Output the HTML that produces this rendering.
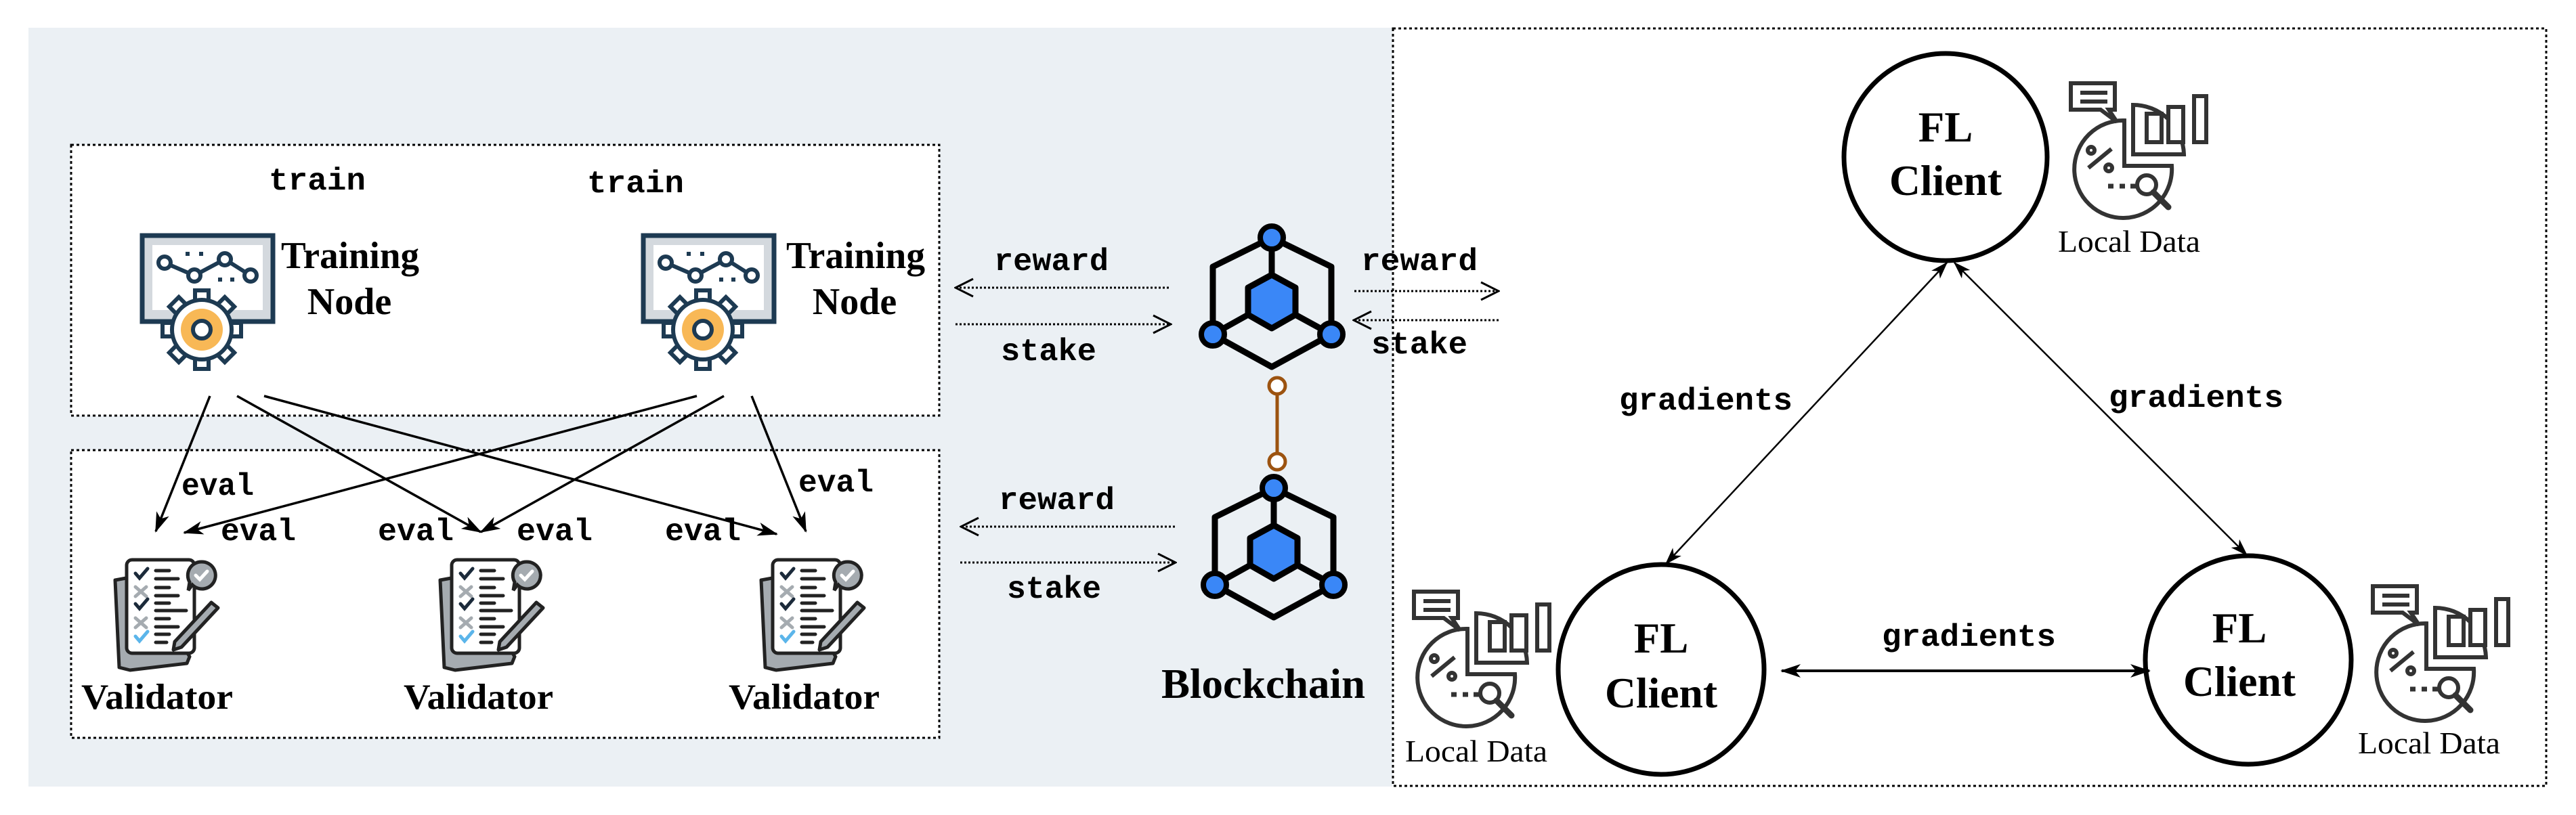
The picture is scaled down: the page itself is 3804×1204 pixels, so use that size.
<!DOCTYPE html>
<html><head><meta charset="utf-8"><style>
html,body{margin:0;padding:0;background:#fff;}
svg{display:block;}
.mono{font-family:"Liberation Mono",monospace;font-weight:bold;font-size:46px;fill:#000;}
.serb{font-family:"Liberation Serif",serif;font-weight:bold;fill:#000;}
.ser{font-family:"Liberation Serif",serif;fill:#000;}
</style></head><body>
<svg width="3804" height="1204" viewBox="0 0 3804 1204" xmlns="http://www.w3.org/2000/svg">
<defs>
<marker id="ah" viewBox="0 0 30 20" refX="28" refY="10" markerWidth="30" markerHeight="20" markerUnits="userSpaceOnUse" orient="auto-start-reverse">
<path d="M0,0 L30,10 L0,20 L8,10 Z" fill="#000"/></marker>
<marker id="ah2" viewBox="0 0 30 20" refX="28" refY="10" markerWidth="26" markerHeight="18" markerUnits="userSpaceOnUse" orient="auto-start-reverse">
<path d="M0,0 L30,10 L0,20 L8,10 Z" fill="#000"/></marker>
<marker id="op" viewBox="0 0 30 30" refX="28" refY="15" markerWidth="30" markerHeight="30" markerUnits="userSpaceOnUse" orient="auto-start-reverse">
<path d="M2,2 L28,15 L2,28" fill="none" stroke="#000" stroke-width="3"/></marker>

<g id="train">
<rect x="10" y="8" width="193" height="127" fill="#d4d9de" stroke="#1d3a52" stroke-width="7"/>
<rect x="25" y="22" width="163" height="96" fill="#fff"/>
<polyline points="43,48 87,67 132,43 170,67" fill="none" stroke="#1d3a52" stroke-width="6"/>
<g fill="#fff" stroke="#1d3a52" stroke-width="6"><circle cx="43" cy="48" r="9"/><circle cx="87" cy="67" r="9"/><circle cx="132" cy="43" r="9"/><circle cx="170" cy="67" r="9"/></g>
<g fill="#1d3a52"><rect x="74" y="32" width="6" height="6"/><rect x="94" y="32" width="6" height="6"/><rect x="122" y="70" width="6" height="6"/><rect x="140" y="70" width="6" height="6"/></g>
<g transform="translate(98,147)" fill="#fff" stroke="#1d3a52" stroke-width="6">
<g id="tooth"><rect x="-10" y="-58" width="20" height="20"/></g>
<use href="#tooth" transform="rotate(45)"/><use href="#tooth" transform="rotate(90)"/><use href="#tooth" transform="rotate(135)"/><use href="#tooth" transform="rotate(180)"/><use href="#tooth" transform="rotate(225)"/><use href="#tooth" transform="rotate(270)"/><use href="#tooth" transform="rotate(315)"/>
<circle r="44"/>
<circle r="31" fill="#f8b856" stroke="none"/>
<circle r="13" fill="#fff"/>
</g>
</g>

<g id="valid">
<path d="M20,47 L58,40 L130,160 L126,170 L42,180 L26,176 Z" fill="#a5abb0" stroke="#222" stroke-width="5" stroke-linejoin="round"/>
<rect x="37" y="17" width="100" height="138" rx="8" fill="#fff" stroke="#222" stroke-width="5"/>
<g fill="none" stroke-width="5" stroke-linecap="round">
<polyline points="50,37 56,44 68,30" stroke="#1b2a3a"/>
<path d="M50,57 L66,71 M66,57 L50,71" stroke="#a5abb0"/>
<polyline points="50,82 56,89 68,75" stroke="#1b2a3a"/>
<path d="M50,103 L66,117 M66,103 L50,117" stroke="#a5abb0"/>
<polyline points="50,130 56,137 68,123" stroke="#5bb5ea"/>
<g stroke="#222"><path d="M80,33 H100 M80,45 H113 M80,58 H100 M80,70 H113 M80,81 H100 M80,92 H125 M80,104 H100 M80,116 H113 M80,127 H100 M80,139 H96"/></g>
</g>
<path d="M148,20 a20,20 0 1 1 -14,34 l-6,8 l2,-12 a20,20 0 0 1 18,-30 Z" fill="#a5abb0" stroke="#222" stroke-width="5"/>
<polyline points="139,40 145,46 156,34" fill="none" stroke="#fff" stroke-width="5" stroke-linecap="round"/>
<path d="M162,80 L172,88 L118,146 L106,150 L108,138 Z" fill="#a5abb0" stroke="#222" stroke-width="5" stroke-linejoin="round"/>
</g>

<g id="ldata" fill="none" stroke="#333" stroke-width="6">
<path d="M97,68 A72,72 0 1 0 167,135 L97,135 Z"/>
<path d="M110,45 A75,75 0 0 1 185,118 L110,118 Z" fill="#fff"/>
<path d="M18,13 H83 V52 H74 L86,70 L62,52 H18 Z" fill="#fff"/>
<path d="M32,27 H72 M32,40 H72"/>
<rect x="130" y="58" width="22" height="42" fill="#fff"/>
<rect x="162" y="48" width="22" height="52" fill="#fff"/>
<rect x="200" y="32" width="18" height="68" fill="#fff"/>
<circle cx="48" cy="112" r="5"/><circle cx="74" cy="138" r="5"/><path d="M44,138 L78,110"/>
<path d="M73,165 h8 M90,165 h8 M106,165 h8" stroke-width="7"/>
<circle cx="130" cy="163" r="14" fill="#fff"/><path d="M140,174 L162,196" stroke-width="9" stroke-linecap="round"/>
</g>

<g id="chain">
<path d="M0,0 L-87,43 V143 L0,191 L88,143 V43 Z M0,0 V55" fill="none" stroke="#000" stroke-width="9" stroke-linejoin="round"/>
<path d="M-87,143 L-35,114 M88,143 L35,114" stroke="#000" stroke-width="9"/>
<polygon points="0,55 35,74 35,114 0,134 -35,114 -35,74" fill="#3a87f7" stroke="#000" stroke-width="9" stroke-linejoin="round"/>
<g fill="#3a87f7" stroke="#000" stroke-width="8"><circle cx="0" cy="0" r="17"/><circle cx="-87" cy="143" r="17"/><circle cx="88" cy="143" r="17"/></g>
</g>
</defs>

<rect x="42" y="41" width="2014" height="1121" fill="#ebf0f4"/>
<rect x="105" y="214" width="1282" height="400" fill="#fff" stroke="#000" stroke-width="3" stroke-dasharray="4 4"/>
<rect x="105" y="665" width="1282" height="425" fill="#fff" stroke="#000" stroke-width="3" stroke-dasharray="4 4"/>
<rect x="2057" y="42" width="1703" height="1119" fill="#fff" stroke="#000" stroke-width="3" stroke-dasharray="4 4"/>

<text class="mono" x="397" y="280" textLength="143" lengthAdjust="spacingAndGlyphs">train</text>
<text class="mono" x="867" y="284" textLength="143" lengthAdjust="spacingAndGlyphs">train</text>
<use href="#train" transform="translate(200,340)"/>
<use href="#train" transform="translate(940,340)"/>
<text class="serb" font-size="56" x="415" y="396" textLength="204" lengthAdjust="spacingAndGlyphs">Training</text>
<text class="serb" font-size="56" x="516" y="464" text-anchor="middle">Node</text>
<text class="serb" font-size="56" x="1161" y="396" textLength="205" lengthAdjust="spacingAndGlyphs">Training</text>
<text class="serb" font-size="56" x="1262" y="464" text-anchor="middle">Node</text>

<g stroke="#000" stroke-width="3.5" marker-end="url(#ah)">
<line x1="310" y1="585" x2="230" y2="785"/>
<line x1="350" y1="585" x2="710" y2="786"/>
<line x1="390" y1="585" x2="1147" y2="789"/>
<line x1="1029" y1="585" x2="272" y2="787"/>
<line x1="1069" y1="585" x2="710" y2="786"/>
<line x1="1110" y1="585" x2="1190" y2="785"/>
</g>
<text class="mono" x="268" y="731" textLength="107" lengthAdjust="spacingAndGlyphs">eval</text>
<text class="mono" x="326" y="798" textLength="111" lengthAdjust="spacingAndGlyphs">eval</text>
<text class="mono" x="558" y="798" textLength="112" lengthAdjust="spacingAndGlyphs">eval</text>
<text class="mono" x="763" y="798" textLength="112" lengthAdjust="spacingAndGlyphs">eval</text>
<text class="mono" x="982" y="798" textLength="112" lengthAdjust="spacingAndGlyphs">eval</text>
<text class="mono" x="1179" y="726" textLength="111" lengthAdjust="spacingAndGlyphs">eval</text>

<use href="#valid" transform="translate(150,810)"/>
<use href="#valid" transform="translate(630,810)"/>
<use href="#valid" transform="translate(1104,810)"/>
<text class="serb" font-size="53" x="120" y="1047" textLength="224" lengthAdjust="spacingAndGlyphs">Validator</text>
<text class="serb" font-size="53" x="596" y="1047" textLength="221" lengthAdjust="spacingAndGlyphs">Validator</text>
<text class="serb" font-size="53" x="1076" y="1047" textLength="223" lengthAdjust="spacingAndGlyphs">Validator</text>

<g fill="none" stroke="#000" stroke-width="3" stroke-dasharray="3 3">
<line x1="1726" y1="425" x2="1411" y2="425" marker-end="url(#op)"/>
<line x1="1411" y1="479" x2="1729" y2="479" marker-end="url(#op)"/>
<line x1="1735" y1="778" x2="1419" y2="778" marker-end="url(#op)"/>
<line x1="1418" y1="831" x2="1736" y2="831" marker-end="url(#op)"/>
<line x1="2000" y1="430" x2="2213" y2="430" marker-end="url(#op)"/>
<line x1="2213" y1="473" x2="1999" y2="473" marker-end="url(#op)"/>
</g>
<text class="mono" x="1468" y="399" textLength="169" lengthAdjust="spacingAndGlyphs">reward</text>
<text class="mono" x="1478" y="532" textLength="141" lengthAdjust="spacingAndGlyphs">stake</text>
<text class="mono" x="1475" y="752" textLength="171" lengthAdjust="spacingAndGlyphs">reward</text>
<text class="mono" x="1487" y="883" textLength="139" lengthAdjust="spacingAndGlyphs">stake</text>
<text class="mono" x="2010" y="399" textLength="172" lengthAdjust="spacingAndGlyphs">reward</text>
<text class="mono" x="2025" y="522" textLength="142" lengthAdjust="spacingAndGlyphs">stake</text>

<use href="#chain" transform="translate(1878,351)"/>
<use href="#chain" transform="translate(1881,721)"/>
<line x1="1886" y1="582" x2="1886" y2="670" stroke="#9c5310" stroke-width="5"/>
<circle cx="1886" cy="570" r="12" fill="#fff" stroke="#9c5310" stroke-width="5"/>
<circle cx="1886" cy="682" r="12" fill="#fff" stroke="#9c5310" stroke-width="5"/>
<text class="serb" font-size="62" x="1715" y="1031" textLength="301" lengthAdjust="spacingAndGlyphs">Blockchain</text>

<g fill="#fff" stroke="#000" stroke-width="7">
<ellipse cx="2873" cy="232" rx="150" ry="153"/>
<ellipse cx="2453" cy="989" rx="152" ry="155"/>
<ellipse cx="3320" cy="975" rx="152" ry="154"/>
</g>
<g class="serb" font-size="63" text-anchor="middle">
<text x="2873" y="209">FL</text><text x="2873" y="288" textLength="166" lengthAdjust="spacingAndGlyphs">Client</text>
<text x="2453" y="964">FL</text><text x="2453" y="1045" textLength="166" lengthAdjust="spacingAndGlyphs">Client</text>
<text x="3307" y="949">FL</text><text x="3307" y="1028" textLength="166" lengthAdjust="spacingAndGlyphs">Client</text>
</g>
<g stroke="#000" stroke-width="2.5" marker-end="url(#ah2)" marker-start="url(#ah2)">
<line x1="2875" y1="388" x2="2460" y2="833"/>
<line x1="2886" y1="388" x2="3318" y2="820"/>
</g>
<line x1="2631" y1="991" x2="3174" y2="991" stroke="#000" stroke-width="4" marker-end="url(#ah)" marker-start="url(#ah)"/>
<text class="mono" x="2391" y="605" textLength="256" lengthAdjust="spacingAndGlyphs">gradients</text>
<text class="mono" x="3114" y="601" textLength="258" lengthAdjust="spacingAndGlyphs">gradients</text>
<text class="mono" x="2779" y="954" textLength="257" lengthAdjust="spacingAndGlyphs">gradients</text>

<use href="#ldata" transform="translate(3040,110)"/>
<use href="#ldata" transform="translate(2070,861)"/>
<use href="#ldata" transform="translate(3486,853)"/>
<text class="ser" font-size="46" x="3039" y="372" textLength="210" lengthAdjust="spacingAndGlyphs">Local Data</text>
<text class="ser" font-size="46" x="2075" y="1125" textLength="210" lengthAdjust="spacingAndGlyphs">Local Data</text>
<text class="ser" font-size="46" x="3482" y="1113" textLength="210" lengthAdjust="spacingAndGlyphs">Local Data</text>
</svg>
</body></html>
